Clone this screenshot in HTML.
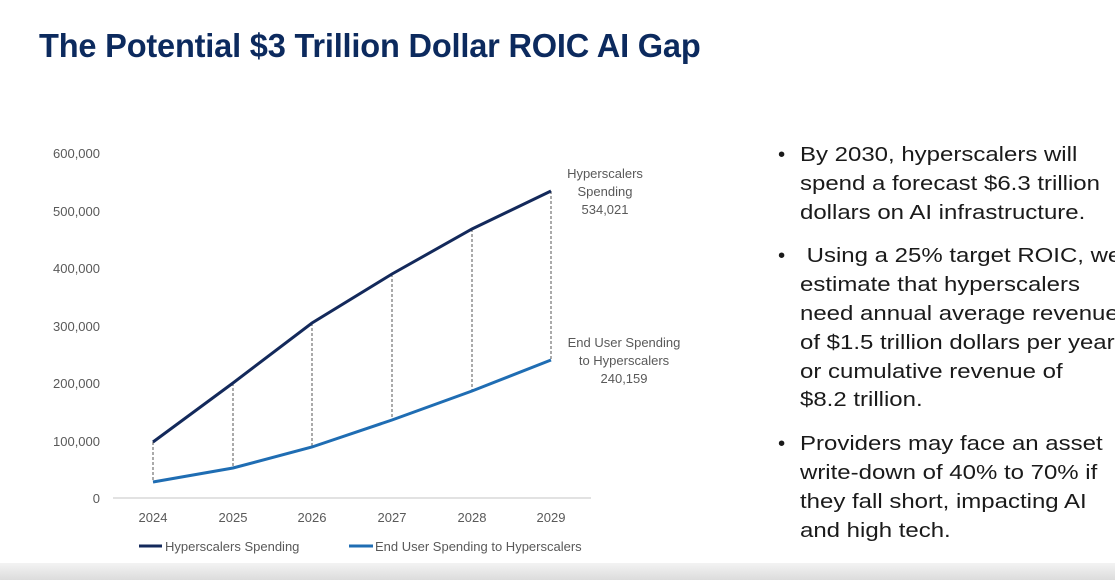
<!DOCTYPE html>
<html><head><style>
body{margin:0;width:1115px;height:580px;background:#fff;overflow:hidden;position:relative;font-family:"Liberation Sans",sans-serif}
h1{position:absolute;left:39px;top:27px;margin:0;font-size:33px;font-weight:bold;color:#0c2a5e;letter-spacing:-0.2px;transform:scaleX(0.987);transform-origin:left}
.bul{position:absolute;left:778px;top:141px;width:400px;font-size:20.5px;line-height:28.8px;color:#1a1a1a;white-space:nowrap}
.bul div{position:relative;padding-left:22px;margin-bottom:15px}
.bul div:before{content:"•";position:absolute;left:0}
.bul span{display:inline-block;transform:scaleX(1.17);transform-origin:left}
.bar{position:absolute;left:0;top:563px;width:1115px;height:17px;background:linear-gradient(#f3f3f3,#dcdcdc)}
</style></head><body>
<h1>The Potential $3 Trillion Dollar ROIC AI Gap</h1>
<svg width="1115" height="580" style="position:absolute;left:0;top:0" font-family="Liberation Sans, sans-serif">
<g font-size="13" fill="#595959" text-anchor="end">
<text x="100" y="158">600,000</text><text x="100" y="216">500,000</text><text x="100" y="273">400,000</text>
<text x="100" y="331">300,000</text><text x="100" y="388">200,000</text><text x="100" y="446">100,000</text><text x="100" y="503">0</text>
</g>
<line x1="113" y1="498" x2="591" y2="498" stroke="#d9d9d9" stroke-width="1.5"/>
<g font-size="13" fill="#595959" text-anchor="middle">
<text x="153" y="522">2024</text><text x="233" y="522">2025</text><text x="312" y="522">2026</text>
<text x="392" y="522">2027</text><text x="472" y="522">2028</text><text x="551" y="522">2029</text>
</g>
<g stroke="#555" stroke-width="1" stroke-dasharray="3,2">
<line x1="153" y1="442" x2="153" y2="482"/><line x1="233" y1="383" x2="233" y2="468"/><line x1="312" y1="323" x2="312" y2="447"/>
<line x1="392" y1="274" x2="392" y2="420"/><line x1="472" y1="229" x2="472" y2="391"/><line x1="551" y1="191" x2="551" y2="360"/>
</g>
<polyline fill="none" stroke="#13295b" stroke-width="3" points="153,442 233,383 312,323 392,274 472,229 551,191"/>
<polyline fill="none" stroke="#1f6db3" stroke-width="3" points="153,482 233,468 312,447 392,420 472,391 551,360"/>
<g font-size="13" fill="#595959" text-anchor="middle">
<text x="605" y="178">Hyperscalers</text><text x="605" y="196">Spending</text><text x="605" y="214">534,021</text>
<text x="624" y="347">End User Spending</text><text x="624" y="365">to Hyperscalers</text><text x="624" y="383">240,159</text>
</g>
<line x1="139" y1="546" x2="162" y2="546" stroke="#13295b" stroke-width="3"/>
<text x="165" y="551" font-size="13" fill="#595959">Hyperscalers Spending</text>
<line x1="349" y1="546" x2="373" y2="546" stroke="#1f6db3" stroke-width="3"/>
<text x="375" y="551" font-size="13" fill="#595959">End User Spending to Hyperscalers</text>
</svg>
<div class="bul">
<div><span>By 2030, hyperscalers will<br>spend a forecast $6.3 trillion<br>dollars on AI infrastructure.</span></div>
<div><span>&nbsp;Using a 25% target ROIC, we<br>estimate that hyperscalers<br>need annual average revenue<br>of $1.5 trillion dollars per year<br>or cumulative revenue of<br>$8.2 trillion.</span></div>
<div><span>Providers may face an asset<br>write-down of 40% to 70% if<br>they fall short, impacting AI<br>and high tech.</span></div>
</div>
<div class="bar"></div>
</body></html>
